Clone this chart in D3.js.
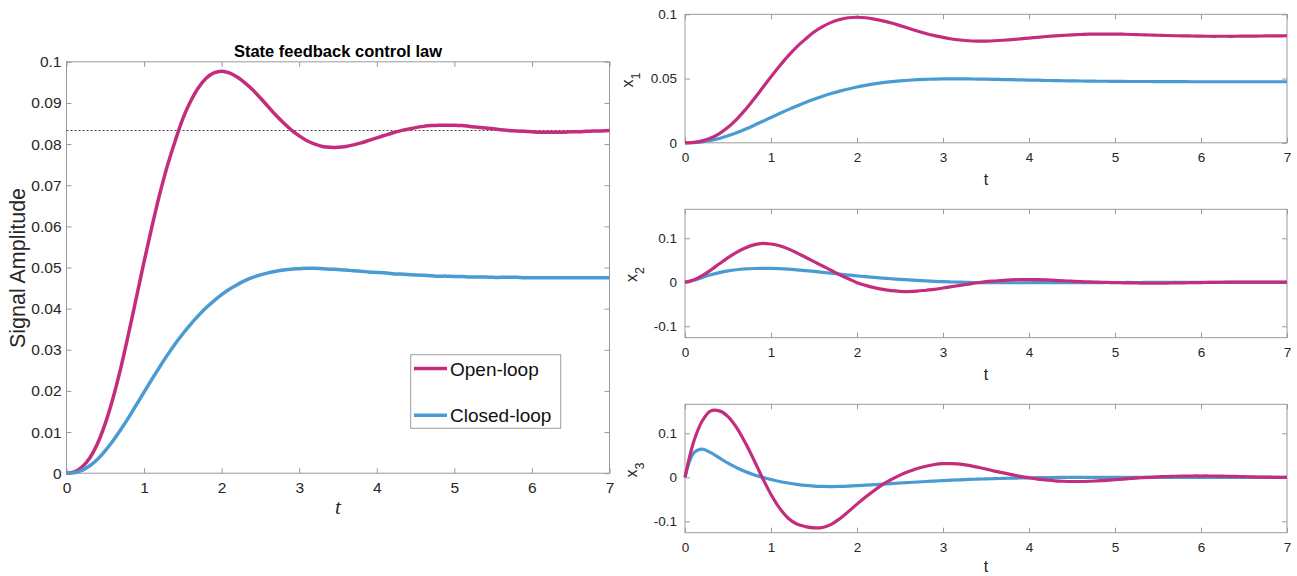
<!DOCTYPE html>
<html><head><meta charset="utf-8">
<script src="https://cdn.jsdelivr.net/npm/d3@7"></script>
<style>
html,body{margin:0;padding:0;background:#fff;}
svg{display:block;font-family:"Liberation Sans",Arial,Helvetica,sans-serif;}
</style></head><body>
<svg id="chart" width="1297" height="576"></svg>
<script>
// ---------------- data ----------------
const time = [0,0.1,0.2,0.3,0.4,0.5,0.6,0.7,0.8,0.9,
  1,1.1,1.2,1.3,1.4,1.5,1.6,1.7,1.8,1.9,
  2,2.1,2.2,2.3,2.4,2.5,2.6,2.7,2.8,2.9,
  3,3.1,3.2,3.3,3.4,3.5,3.6,3.7,3.8,3.9,
  4,4.1,4.2,4.3,4.4,4.5,4.6,4.7,4.8,4.9,
  5,5.1,5.2,5.3,5.4,5.5,5.6,5.7,5.8,5.9,
  6,6.1,6.2,6.3,6.4,6.5,6.6,6.7,6.8,6.9,7];

const seriesNames = ["Open-loop", "Closed-loop"];
const chartTitle = "State feedback control law";
const steadyState = 0.0833;

const xTicks = [0,1,2,3,4,5,6,7];
const mainYTicks = [0,0.01,0.02,0.03,0.04,0.05,0.06,0.07,0.08,0.09,0.1];
const x1Ticks = [0,0.05,0.1];
const x23Ticks = [-0.1,0,0.1];

const openX1 = [0,0.0003,0.0015,0.0037,0.0072,0.0121,0.0183,0.0256,0.0339,0.0426,
  0.0514,0.0598,0.0677,0.0747,0.0807,0.0862,0.0904,0.0937,0.0960,0.0973,
  0.0977,0.0973,0.0963,0.0949,0.0932,0.0912,0.0891,0.0870,0.0851,0.0834,
  0.0820,0.0808,0.0800,0.0794,0.0792,0.0792,0.0794,0.0798,0.0803,0.0809,
  0.0815,0.0821,0.0827,0.0832,0.0836,0.0840,0.0843,0.0845,0.0846,0.0846,
  0.0846,0.0845,0.0843,0.0841,0.0839,0.0837,0.0835,0.0833,0.0832,0.0831,
  0.0830,0.0829,0.0829,0.0829,0.0829,0.0830,0.0830,0.0831,0.0832,0.0832,0.0833];

const closedX1 = [0,0.0001,0.0007,0.0018,0.0034,0.0055,0.0079,0.0106,0.0135,0.0166,
  0.0197,0.0228,0.0258,0.0287,0.0314,0.0339,0.0362,0.0383,0.0402,0.0419,
  0.0434,0.0447,0.0458,0.0468,0.0476,0.0482,0.0487,0.0491,0.0494,0.0496,
  0.0497,0.0498,0.0498,0.0497,0.0496,0.0495,0.0494,0.0492,0.0491,0.0489,
  0.0488,0.0487,0.0485,0.0484,0.0483,0.0482,0.0481,0.0480,0.0479,0.0479,
  0.0478,0.0478,0.0477,0.0477,0.0477,0.0476,0.0476,0.0476,0.0476,0.0475,
  0.0475,0.0475,0.0475,0.0475,0.0475,0.0475,0.0475,0.0475,0.0475,0.0475,0.0475];

const openX2 = [0,0.005,0.015,0.028,0.042,0.056,0.068,0.078,0.085,0.0886,
  0.087,0.083,0.076,0.067,0.057,0.047,0.037,0.027,0.017,0.008,
  -0.001,-0.007,-0.012,-0.016,-0.019,-0.0205,-0.021,-0.020,-0.018,-0.016,
  -0.013,-0.010,-0.007,-0.004,-0.001,0.0015,0.003,0.0045,0.0055,0.006,
  0.006,0.006,0.0055,0.0045,0.0035,0.0025,0.0015,0.0008,0.0002,-0.0003,
  -0.0008,-0.0012,-0.0015,-0.0017,-0.0018,-0.0018,-0.0017,-0.0015,-0.0012,-0.0009,
  -0.0006,-0.0003,0,0.0002,0.0004,0.0005,0.0005,0.0005,0.0004,0.0003,0.0002];

const closedX2 = [0,0.0045,0.011,0.017,0.022,0.0258,0.0285,0.0303,0.0314,0.0318,
  0.0316,0.0309,0.0298,0.0283,0.0266,0.0247,0.0227,0.0206,0.0185,0.0165,
  0.0145,0.0128,0.0112,0.0096,0.0081,0.0067,0.0054,0.0042,0.0031,0.0022,
  0.0014,0.0007,0.0002,-0.0003,-0.0006,-0.0008,-0.0009,-0.001,-0.001,-0.001,
  -0.001,-0.0009,-0.0009,-0.0008,-0.0008,-0.0007,-0.0007,-0.0006,-0.0006,-0.0005,
  -0.0005,-0.0004,-0.0004,-0.0004,-0.0003,-0.0003,-0.0003,-0.0002,-0.0002,-0.0002,
  -0.0002,-0.0001,-0.0001,-0.0001,-0.0001,-0.0001,-0.0001,0,0,0,0];

const openX3 = [0,0.080,0.128,0.151,0.151,0.138,0.113,0.079,0.040,-0.001,
  -0.039,-0.070,-0.093,-0.106,-0.112,-0.115,-0.114,-0.107,-0.094,-0.078,
  -0.061,-0.045,-0.030,-0.016,-0.005,0.005,0.013,0.020,0.025,0.029,
  0.031,0.031,0.030,0.027,0.023,0.019,0.014,0.010,0.006,0.002,
  -0.001,-0.004,-0.006,-0.008,-0.009,-0.0095,-0.0095,-0.009,-0.008,-0.007,
  -0.0055,-0.004,-0.0025,-0.001,0,0.001,0.0018,0.0024,0.0028,0.003,
  0.003,0.003,0.0028,0.0024,0.002,0.0015,0.001,0.0005,0.0002,-0.0001,-0.0003];

const closedX3 = [0,0.055,0.064,0.056,0.044,0.032,0.022,0.013,0.006,0,
  -0.005,-0.0095,-0.013,-0.016,-0.0185,-0.020,-0.0207,-0.021,-0.0207,-0.020,
  -0.019,-0.018,-0.0168,-0.0155,-0.0142,-0.013,-0.0118,-0.0107,-0.0096,-0.0085,
  -0.0075,-0.0066,-0.0057,-0.0049,-0.0042,-0.0036,-0.003,-0.0025,-0.002,-0.0016,
  -0.0012,-0.0009,-0.0006,-0.0004,-0.0002,-0.0001,0,0,0,0,
  0,0,0,0,0,0,0,0,0,0,
  0,0,0,0,0,0,0,0,0,0,0];

// ---------------- style ----------------
const openColor = "#c42c7c";
const closedColor = "#4b9bd3";
const axisColor = "#9a9a9a";
const textColor = "#262626";

const svg = d3.select("#chart");

function fmt(d) {
  if (d === 0) return "0";
  return String(+d.toFixed(3));
}

function drawPanel(p) {
  const x = d3.scaleLinear().domain([0, 7]).range([p.left, p.right]);
  const y = d3.scaleLinear().domain(p.yDomain).range([p.bottom, p.top]);
  const g = svg.append("g");

  const styleAxis = (sel) => {
    sel.select(".domain").remove();
    sel.selectAll(".tick line").attr("stroke", axisColor).attr("stroke-width", 1);
    sel.selectAll(".tick text").attr("fill", textColor)
      .attr("font-family", "'Liberation Sans', Arial, sans-serif")
      .attr("font-size", p.fontSize);
    sel.attr("font-family", null).attr("font-size", null);
  };

  g.append("g").attr("transform", `translate(0,${p.bottom})`)
    .call(d3.axisBottom(x).tickValues(xTicks).tickSizeInner(-p.tick).tickSizeOuter(0)
      .tickPadding(p.xPad).tickFormat(fmt)).call(styleAxis);
  g.append("g").attr("transform", `translate(0,${p.top})`)
    .call(d3.axisTop(x).tickValues(xTicks).tickSizeInner(-p.tick).tickSizeOuter(0)
      .tickFormat("")).call(styleAxis);
  g.append("g").attr("transform", `translate(${p.left},0)`)
    .call(d3.axisLeft(y).tickValues(p.yTicks).tickSizeInner(-p.tick).tickSizeOuter(0)
      .tickPadding(p.yPad).tickFormat(fmt)).call(styleAxis);
  g.append("g").attr("transform", `translate(${p.right},0)`)
    .call(d3.axisRight(y).tickValues(p.yTicks).tickSizeInner(-p.tick).tickSizeOuter(0)
      .tickFormat("")).call(styleAxis);

  g.append("rect").attr("x", p.left).attr("y", p.top)
    .attr("width", p.right - p.left).attr("height", p.bottom - p.top)
    .attr("fill", "none").attr("stroke", axisColor).attr("stroke-width", 1);

  if (p.refLine !== undefined) {
    g.append("line").attr("x1", x(0)).attr("x2", x(7))
      .attr("y1", y(p.refLine)).attr("y2", y(p.refLine))
      .attr("stroke", "#4a4a4a").attr("stroke-width", 1)
      .attr("stroke-dasharray", "2,2");
  }

  const line = d3.line()
    .x((d, i) => x(time[i]))
    .y(d => y(d))
    .curve(d3.curveCatmullRom.alpha(0.5));

  p.series.forEach(s => {
    g.append("path").datum(s.values)
      .attr("d", line).attr("fill", "none")
      .attr("stroke", s.color).attr("stroke-width", p.lineWidth)
      .attr("stroke-linejoin", "round").attr("stroke-linecap", "butt");
  });
  return {x, y, g};
}

// ---------------- main (left) chart ----------------
const main = drawPanel({
  left: 66.5, right: 609.5, top: 61.8, bottom: 473.2,
  yDomain: [0, 0.1], yTicks: mainYTicks, fontSize: 15.5,
  tick: 5, xPad: 9, yPad: 5, lineWidth: 3.5, refLine: steadyState,
  series: [{values: openX1, color: openColor}, {values: closedX1, color: closedColor}]
});

svg.append("text").attr("x", 338).attr("y", 56.5)
  .attr("text-anchor", "middle").attr("font-weight", "bold")
  .attr("font-size", 16.5).attr("fill", "#000").text(chartTitle);

svg.append("text").attr("transform", "translate(25,268) rotate(-90)")
  .attr("text-anchor", "middle").attr("font-size", 21.5).attr("fill", textColor)
  .text("Signal Amplitude");

svg.append("text").attr("x", 338).attr("y", 514)
  .attr("text-anchor", "middle").attr("font-family", "'Liberation Serif', 'DejaVu Serif', serif")
  .attr("font-style", "italic").attr("font-size", 21).attr("fill", textColor).text("t");

// legend
const legend = svg.append("g");
legend.append("rect").attr("x", 410.7).attr("y", 354.7).attr("width", 150).attr("height", 73.6)
  .attr("fill", "#fff").attr("stroke", "#a0a0a0").attr("stroke-width", 1);
const legendColors = [openColor, closedColor];
const legendRows = [368.5, 415.2];
seriesNames.forEach((name, i) => {
  legend.append("line").attr("x1", 414).attr("x2", 447)
    .attr("y1", legendRows[i]).attr("y2", legendRows[i])
    .attr("stroke", legendColors[i]).attr("stroke-width", 3.5);
  legend.append("text").attr("x", 450).attr("y", legendRows[i] + 7.2)
    .attr("font-size", 19).attr("fill", "#111").text(name);
});

// ---------------- right panels ----------------
const rightCommon = {left: 685, right: 1287, fontSize: 13.5, tick: 5, xPad: 10, yPad: 8, lineWidth: 3.2};
const panelDefs = [
  {top: 14.3, bottom: 142.8, yDomain: [0, 0.1], yTicks: x1Ticks,
   series: [{values: closedX1, color: closedColor}, {values: openX1, color: openColor}],
   sub: "1", labelX: 633, labelY: 80},
  {top: 209.3, bottom: 337.7, yDomain: [-0.1259, 0.1659], yTicks: x23Ticks,
   series: [{values: closedX2, color: closedColor}, {values: openX2, color: openColor}],
   sub: "2", labelX: 637, labelY: 274.5},
  {top: 404.3, bottom: 532.7, yDomain: [-0.1259, 0.1659], yTicks: x23Ticks,
   series: [{values: closedX3, color: closedColor}, {values: openX3, color: openColor}],
   sub: "3", labelX: 637, labelY: 470}
];

panelDefs.forEach(pd => {
  const p = Object.assign({}, rightCommon, pd);
  drawPanel(p);
  const lbl = svg.append("text")
    .attr("transform", `translate(${pd.labelX},${pd.labelY}) rotate(-90)`)
    .attr("text-anchor", "middle").attr("fill", textColor).attr("font-size", 16);
  lbl.append("tspan").text("x");
  lbl.append("tspan").attr("dy", 7).attr("font-size", 12.5).text(pd.sub);
  svg.append("text").attr("x", (p.left + p.right) / 2).attr("y", Math.min(pd.bottom + 42, 572))
    .attr("text-anchor", "middle").attr("font-size", 16).attr("fill", textColor).text("t");
});
</script>
</body></html>
